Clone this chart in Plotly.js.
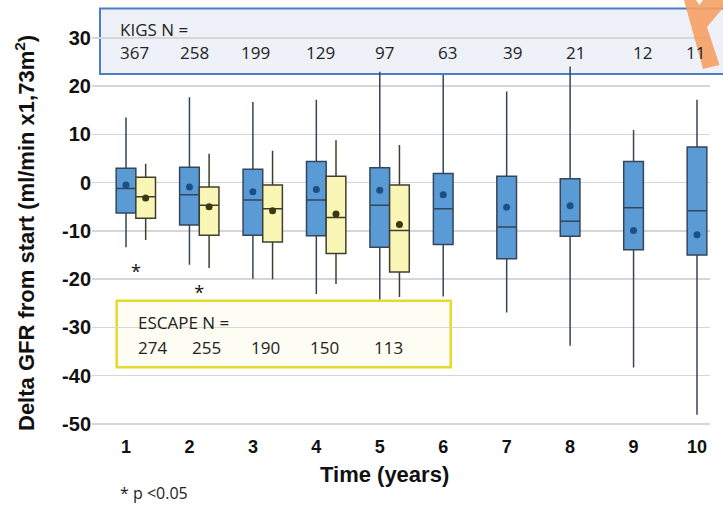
<!DOCTYPE html>
<html>
<head>
<meta charset="utf-8">
<script src="https://cdn.plot.ly/plotly-3.0.1.min.js"></script>
<style>html,body{margin:0;padding:0;background:#fff;}#chart{width:723px;height:505px;}</style>
</head>
<body>
<div id="chart"></div>
<script>
// ---- data ----
const years = [1, 2, 3, 4, 5, 6, 7, 8, 9, 10];
const yearLabels = ['1', '2', '3', '4', '5', '6', '7', '8', '9', '10'];

// KIGS cohort
const kigsUpper  = [13.5, 17.7, 16.7, 17.2, 23.0, 22.3, 18.9, 24.1, 10.9, 17.2];
const kigsQ3     = [3.0, 3.2, 2.8, 4.4, 3.1, 1.9, 1.3, 0.8, 4.4, 7.4];
const kigsMedian = [-1.2, -2.5, -3.6, -3.6, -4.7, -5.4, -9.2, -8.0, -5.2, -5.8];
const kigsQ1     = [-6.3, -8.8, -10.9, -11.0, -13.4, -12.8, -15.8, -11.1, -13.9, -15.0];
const kigsLower  = [-13.4, -17.0, -19.9, -23.1, -24.2, -23.6, -26.9, -33.8, -38.3, -48.1];
const kigsMean   = [-0.5, -0.9, -1.9, -1.4, -1.6, -2.5, -5.1, -4.8, -9.9, -10.8];
const kigsN      = [367, 258, 199, 129, 97, 63, 39, 21, 12, 11];

// ESCAPE cohort (years 1-5)
const escYears   = [1, 2, 3, 4, 5];
const escUpper   = [3.9, 6.0, 6.6, 8.8, 7.8];
const escQ3      = [1.1, -0.9, -0.5, 1.3, -0.5];
const escMedian  = [-2.9, -4.7, -5.4, -7.2, -9.9];
const escQ1      = [-7.4, -10.9, -12.3, -14.7, -18.5];
const escLower   = [-11.9, -17.7, -20.0, -21.0, -23.7];
const escMean    = [-3.2, -5.0, -5.8, -6.5, -8.7];
const escN       = [274, 255, 190, 150, 113];

// years with p < 0.05
const sigYears = [1, 2];

const yTickVals = [-50, -40, -30, -20, -10, 0, 10, 20, 30];
const yTickText = ['-50', '-40', '-30', '-20', '-10', '0', '10', '20', '30'];

// ---- layout helpers (pixel -> paper) ----
const W = 723, H = 505;
const M = {l: 92, r: 13, t: 8, b: 71};
const PW = W - M.l - M.r, PH = H - M.t - M.b;
const px = v => (v - M.l) / PW;
const py = v => (H - M.b - v) / PH;

const boxW = 0.31;          // box width in x units
const escOffset = 0.31;     // ESCAPE boxes sit just right of KIGS boxes
const escX = escYears.map(y => y + escOffset);

const blueFill = '#5b9bd5', blueLine = '#34465a', blueMean = '#1c4f82';
const yelFill = '#faf6b6', yelLine = '#3f3f30', yelMean = '#39390f';

const traces = [
  {
    type: 'box', x: years, q1: kigsQ1, median: kigsMedian, q3: kigsQ3,
    lowerfence: kigsLower, upperfence: kigsUpper,
    width: boxW, whiskerwidth: 0, fillcolor: blueFill,
    line: {color: blueLine, width: 1.5}, hoverinfo: 'skip', name: 'KIGS'
  },
  {
    type: 'box', x: escX, q1: escQ1, median: escMedian, q3: escQ3,
    lowerfence: escLower, upperfence: escUpper,
    width: boxW, whiskerwidth: 0, fillcolor: yelFill,
    line: {color: yelLine, width: 1.5}, hoverinfo: 'skip', name: 'ESCAPE'
  },
  {
    type: 'scatter', mode: 'markers', x: years, y: kigsMean,
    marker: {color: blueMean, size: 7}, hoverinfo: 'skip'
  },
  {
    type: 'scatter', mode: 'markers', x: escX, y: escMean,
    marker: {color: yelMean, size: 7}, hoverinfo: 'skip'
  },
  {
    type: 'scatter', mode: 'text',
    x: sigYears.map(y => y + boxW / 2),
    y: sigYears.map(y => Math.min(kigsLower[y - 1], escLower[y - 1]) - 5.5),
    text: sigYears.map(() => '*'),
    textfont: {family: 'Open Sans', size: 18, color: '#111'},
    hoverinfo: 'skip', cliponaxis: false
  }
];

const textFont = {family: 'Open Sans, Liberation Sans', size: 17, color: '#222'};
const kigsLeftPx = [118, 178, 239, 304, 373, 436, 501, 564, 631, 684];
const escLeftPx = [136, 190, 249, 308, 372];

const annotations = [
  {xref: 'paper', yref: 'paper', x: px(118), y: py(29), xanchor: 'left', yanchor: 'middle',
   text: 'KIGS N =', showarrow: false, font: textFont},
  {xref: 'paper', yref: 'paper', x: px(136), y: py(322.7), xanchor: 'left', yanchor: 'middle',
   text: 'ESCAPE N =', showarrow: false, font: textFont},
  {xref: 'paper', yref: 'paper', x: px(118), y: py(493), xanchor: 'left', yanchor: 'middle',
   text: '* p <0.05', showarrow: false, font: {family: 'Open Sans', size: 16, color: '#222'}},
  {xref: 'paper', yref: 'paper', x: px(384), y: py(474), xanchor: 'center', yanchor: 'middle',
   text: 'Time (years)', showarrow: false,
   font: {family: 'Liberation Sans, Arial', size: 22, color: '#111', weight: 'bold'}},
  {xref: 'paper', yref: 'paper', x: px(25), y: py(233), xanchor: 'center', yanchor: 'middle',
   textangle: -90, text: 'Delta GFR from start (ml/min x1,73m<sup>2</sup>)', showarrow: false,
   font: {family: 'Liberation Sans, Arial', size: 22, color: '#111', weight: 'bold'}}
];
kigsN.forEach((n, i) => annotations.push({
  xref: 'paper', yref: 'paper', x: px(kigsLeftPx[i]), y: py(53), xanchor: 'left', yanchor: 'middle',
  text: String(n), showarrow: false, font: textFont
}));
escN.forEach((n, i) => annotations.push({
  xref: 'paper', yref: 'paper', x: px(escLeftPx[i]), y: py(347.7), xanchor: 'left', yanchor: 'middle',
  text: String(n), showarrow: false, font: textFont
}));

const orangePts = [[684, 0], [703, 69], [719.5, 65], [707, 27], [723, 8], [723, 0], [703, 0], [699.5, 5], [696, 0]];
const orangePath = 'M ' + orangePts.map(p => px(p[0]).toFixed(4) + ',' + py(p[1]).toFixed(4)).join(' L ') + ' Z';

const shapes = [
  {type: 'rect', xref: 'paper', yref: 'paper', layer: 'below',
   x0: px(100), x1: px(726), y0: py(74), y1: py(8.5),
   fillcolor: '#eef2f8', line: {color: '#4a7cc9', width: 2}},
  {type: 'rect', xref: 'paper', yref: 'paper', layer: 'below',
   x0: px(116.7), x1: px(450.7), y0: py(367.3), y1: py(300.7),
   fillcolor: '#fdfdf4', line: {color: '#e6d92e', width: 2.5}},
  {type: 'path', xref: 'paper', yref: 'paper', layer: 'above', path: orangePath,
   fillcolor: 'rgba(246,160,100,0.9)', line: {width: 0}}
];

const layout = {
  width: W, height: H,
  margin: M,
  paper_bgcolor: '#fff', plot_bgcolor: 'rgba(0,0,0,0)',
  showlegend: false,
  boxmode: 'overlay',
  xaxis: {
    range: [1 - 34 / 63.44, 10 + 13 / 63.44],
    tickvals: years, ticktext: yearLabels,
    showgrid: false, zeroline: false, showline: false, ticks: '',
    tickfont: {family: 'Liberation Sans, Arial', size: 18, color: '#111', weight: 'bold'}
  },
  yaxis: {
    range: [-52.1, 36.2],
    tickvals: yTickVals, ticktext: yTickText,
    showgrid: true, gridcolor: '#d6d6d6', gridwidth: 1.5,
    zeroline: false, showline: false, ticks: '',
    tickfont: {family: 'Liberation Sans, Arial', size: 20, color: '#111', weight: 'bold'}
  },
  shapes: shapes,
  annotations: annotations
};

Plotly.newPlot('chart', traces, layout, {displayModeBar: false, staticPlot: true});
</script>
</body>
</html>
